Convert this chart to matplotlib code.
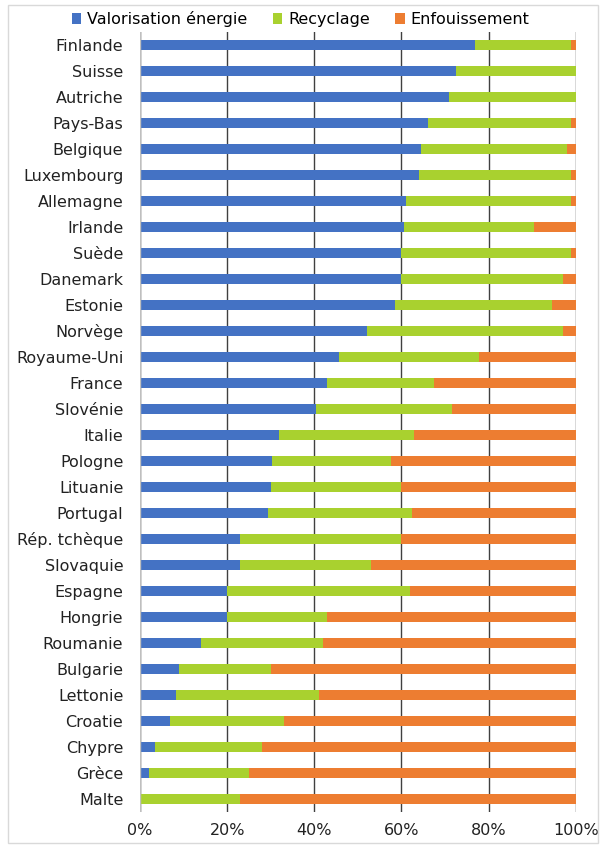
import matplotlib
matplotlib.use("Agg")
import matplotlib.pyplot as plt
from matplotlib.patches import Rectangle
import numpy as np

# parts en % par pays
pays = ["Finlande", "Suisse", "Autriche", "Pays-Bas", "Belgique", "Luxembourg",
        "Allemagne", "Irlande", "Suède", "Danemark", "Estonie", "Norvège",
        "Royaume-Uni", "France", "Slovénie", "Italie", "Pologne", "Lituanie",
        "Portugal", "Rép. tchèque", "Slovaquie", "Espagne", "Hongrie",
        "Roumanie", "Bulgarie", "Lettonie", "Croatie", "Chypre", "Grèce", "Malte"]
valorisation = [77, 72.5, 71, 66, 64.5, 64, 61, 60.5, 60, 60, 58.5, 52,
                45.7, 43, 40.4, 32, 30.4, 30, 29.4, 23, 23, 20, 20,
                14, 9, 8.3, 7, 3.5, 2, 0]
recyclage = [22, 27.5, 29, 33, 33.5, 35, 38, 30, 39, 37, 36, 45,
             32, 24.5, 31.1, 31, 27.1, 30, 33.1, 37, 30, 42, 23,
             28, 21, 32.7, 26, 24.5, 23, 23]
enfouissement = [100 - v - r for v, r in zip(valorisation, recyclage)]

series = ["Valorisation énergie", "Recyclage", "Enfouissement"]
colors = ["#4472C4", "#A9D12F", "#ED7D31"]
xticks = [0, 20, 40, 60, 80, 100]
xlabels = ["0%", "20%", "40%", "60%", "80%", "100%"]

fig = plt.figure(figsize=(6.01, 8.48), dpi=100)
ax = fig.add_axes([140 / 601, 1 - 812 / 848, 435.7 / 601, 780 / 848])

y = np.arange(len(pays))
left = np.zeros(len(pays))
for name, vals, c in zip(series, [valorisation, recyclage, enfouissement], colors):
    ax.barh(y, vals, left=left, height=0.4, color=c, label=name, zorder=3)
    left += np.array(vals)

ax.set_xlim(0, 100)
ax.set_ylim(len(pays) - 0.5, -0.5)
ax.set_yticks(y)
ax.set_yticklabels(pays, fontsize=11.5, color="#222222")
ax.set_xticks(xticks)
ax.set_xticklabels(xlabels, fontsize=11.5, color="#222222")
ax.tick_params(length=0, pad=12, axis="y")
ax.tick_params(length=0, pad=8, axis="x")
ax.grid(axis="x", color="#404040", linewidth=1, zorder=0)
ax.axvline(0, color="#BFBFBF", linewidth=1, zorder=4)
for s in ax.spines.values():
    s.set_visible(False)

fig.legend(loc="upper center", bbox_to_anchor=(0.5, 1.0), ncol=3, frameon=False,
           fontsize=11.5, handlelength=0.6, handleheight=0.6, handletextpad=0.35,
           columnspacing=1.6, borderaxespad=0.3)

fig.patches.append(Rectangle((8 / 601, 5 / 848), 590 / 601, 838 / 848,
                             transform=fig.transFigure, fill=False,
                             edgecolor="#D9D9D9", linewidth=1))

fig.savefig("out.png", dpi=100)
